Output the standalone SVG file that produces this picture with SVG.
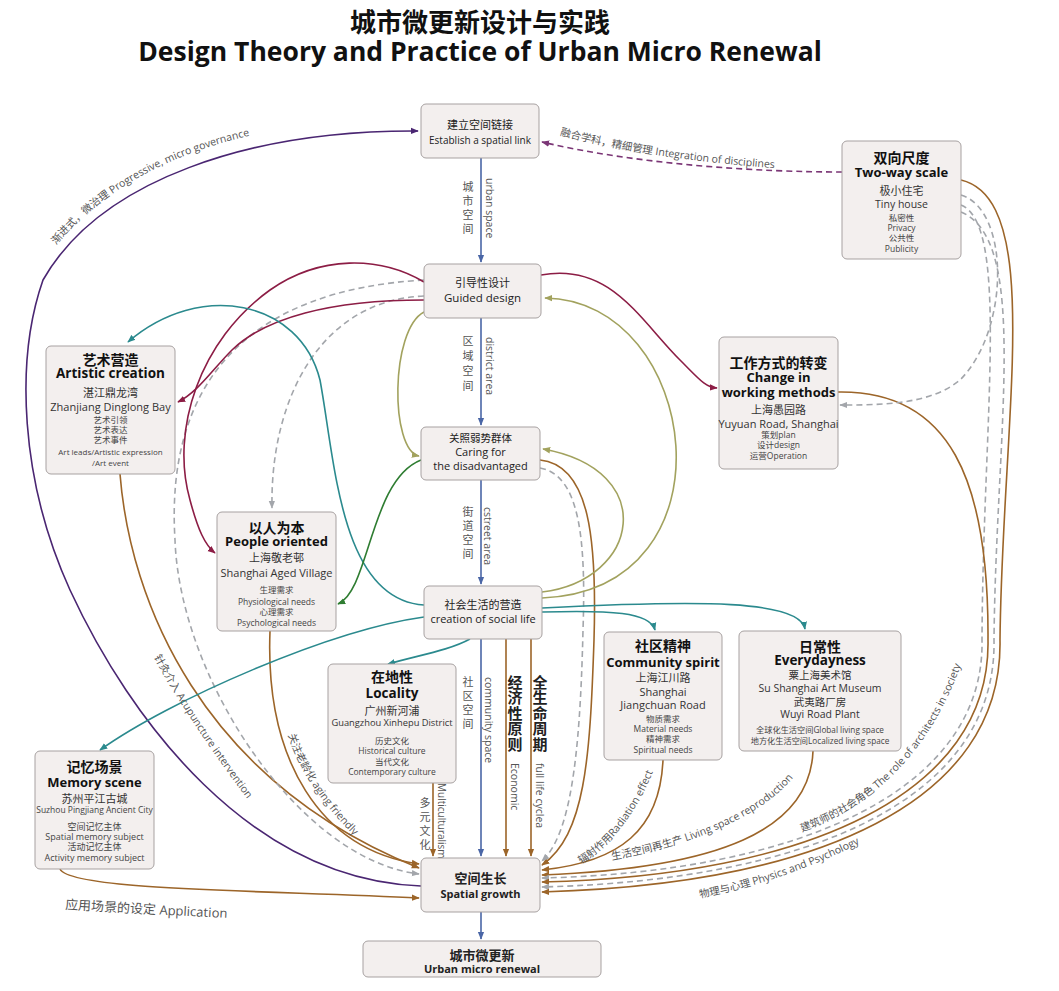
<svg xmlns="http://www.w3.org/2000/svg" width="1059" height="991" viewBox="0 0 1059 991">
<style>
text{font-family:"Open Sans","Noto Sans CJK SC",sans-serif}
.n rect{fill:#f3efee;stroke:#a7a1a1;stroke-width:1}
.c{text-anchor:middle;fill:#222}
.h{font-weight:bold;font-size:14px;fill:#111}
.he{font-weight:bold;font-size:13px;fill:#111}
.s{font-size:11px;fill:#333}
.d{font-size:8.5px;fill:#444}
.m{font-size:11px;fill:#222}
.lb{font-size:10.5px;fill:#555}
.vc{font-size:11px;fill:#555;text-anchor:middle}
.vb{font-size:15px;font-weight:bold;fill:#222;text-anchor:middle}
.cn path{fill:none;stroke-width:1.6}
.blue{stroke:#4a66a6}
.brown{stroke:#9c6529}
.pur{stroke:#4a2672}
.pd{stroke:#7b3676;stroke-dasharray:6 4;stroke-width:2}
.cr{stroke:#8c1d45}
.teal{stroke:#2b8a8e}
.grn{stroke:#2f7d32}
.olv{stroke:#a2a25e}
.gd{stroke:#a3a6ab;stroke-dasharray:6 4}
</style>
<defs>
<marker id="mB" viewBox="0 0 10 10" refX="9" refY="5" markerWidth="8" markerHeight="8" orient="auto" markerUnits="userSpaceOnUse"><path d="M0,1 L10,5 L0,9 z" fill="#4a66a6"/></marker>
<marker id="mBr" viewBox="0 0 10 10" refX="9" refY="5" markerWidth="8" markerHeight="8" orient="auto" markerUnits="userSpaceOnUse"><path d="M0,1 L10,5 L0,9 z" fill="#9c6529"/></marker>
<marker id="mP" viewBox="0 0 10 10" refX="9" refY="5" markerWidth="8" markerHeight="8" orient="auto" markerUnits="userSpaceOnUse"><path d="M0,1 L10,5 L0,9 z" fill="#4a2672"/></marker>
<marker id="mPd" viewBox="0 0 10 10" refX="9" refY="5" markerWidth="8" markerHeight="8" orient="auto" markerUnits="userSpaceOnUse"><path d="M0,1 L10,5 L0,9 z" fill="#7b3676"/></marker>
<marker id="mC" viewBox="0 0 10 10" refX="9" refY="5" markerWidth="8" markerHeight="8" orient="auto" markerUnits="userSpaceOnUse"><path d="M0,1 L10,5 L0,9 z" fill="#8c1d45"/></marker>
<marker id="mT" viewBox="0 0 10 10" refX="9" refY="5" markerWidth="8" markerHeight="8" orient="auto" markerUnits="userSpaceOnUse"><path d="M0,1 L10,5 L0,9 z" fill="#2b8a8e"/></marker>
<marker id="mG" viewBox="0 0 10 10" refX="9" refY="5" markerWidth="8" markerHeight="8" orient="auto" markerUnits="userSpaceOnUse"><path d="M0,1 L10,5 L0,9 z" fill="#2f7d32"/></marker>
<marker id="mO" viewBox="0 0 10 10" refX="9" refY="5" markerWidth="8" markerHeight="8" orient="auto" markerUnits="userSpaceOnUse"><path d="M0,1 L10,5 L0,9 z" fill="#a2a25e"/></marker>
<marker id="mGr" viewBox="0 0 10 10" refX="9" refY="5" markerWidth="8" markerHeight="8" orient="auto" markerUnits="userSpaceOnUse"><path d="M0,1 L10,5 L0,9 z" fill="#a3a6ab"/></marker>
<path id="lp1" d="M56,245 Q130,157 277,130"/>
<path id="lp2" d="M560,135 Q650,160 800,170"/>
<path id="lp3" d="M154,657 Q192,728 268,826"/>
<path id="lp4" d="M288,735 Q309,798 375,855"/>
<path id="lp5" d="M581,864 C614,845 644,803 660,752"/>
<path id="lp6" d="M612,860 C695,845 778,812 805,760"/>
<path id="lp7" d="M802,832 C875,805 940,748 972,630"/>
<path id="lp8" d="M700,898 Q790,881 882,832"/>
<path id="lp9" d="M65,909 Q160,915 270,920"/>
</defs>

<text x="480" y="32" text-anchor="middle" style="font-size:26px;font-weight:bold;fill:#111">城市微更新设计与实践</text>
<text x="480" y="61" text-anchor="middle" style="font-size:26.5px;font-weight:bold;fill:#111">Design Theory and Practice of Urban Micro Renewal</text>

<g id="connectors" class="cn">
<path class="blue" d="M481,158 L481,262" marker-end="url(#mB)"/>
<path class="blue" d="M481,318 L481,425" marker-end="url(#mB)"/>
<path class="blue" d="M481,480 L481,584" marker-end="url(#mB)"/>
<path class="blue" d="M481,639 L481,856" marker-end="url(#mB)"/>
<path class="blue" d="M481,912 L481,939" marker-end="url(#mB)"/>
<path class="brown" d="M506,639 L506,856" marker-end="url(#mBr)"/>
<path class="brown" d="M531,639 L531,856" marker-end="url(#mBr)"/>
<path class="brown" d="M433,783 L433,856" marker-end="url(#mBr)"/>
<path class="brown" d="M120,474 C130,600 200,780 419,868" marker-end="url(#mBr)"/>
<path class="brown" d="M270,631 C265,760 320,850 419,864" marker-end="url(#mBr)"/>
<path class="brown" d="M60,869 C70,890 250,890 419,898" marker-end="url(#mBr)"/>
<path class="brown" d="M540,460 C590,465 597,540 594,640 C590,760 585,835 542,865" marker-end="url(#mBr)"/>
<path class="brown" d="M663,760 C660,830 620,862 542,870" marker-end="url(#mBr)"/>
<path class="brown" d="M813,751 C810,830 720,868 542,875" marker-end="url(#mBr)"/>
<path class="gd" d="M961,205 C1010,225 983,420 982,640 C985,790 800,872 542,878" marker-end="url(#mGr)"/>
<path class="brown" d="M838,392 C950,390 989,480 988,640 C991,794 806,876 542,882" marker-end="url(#mBr)"/>
<path class="gd" d="M961,212 C1030,240 996,430 994,640 C997,798 812,880 542,887" marker-end="url(#mGr)"/>
<path class="brown" d="M961,180 C1045,200 1002,420 1000,640 C1003,802 818,884 542,892" marker-end="url(#mBr)"/>
<path class="gd" d="M961,195 C1010,210 1010,330 960,380 C930,405 880,405 840,405" marker-end="url(#mGr)"/>
<path class="gd" d="M424,280 C250,290 165,380 175,540 C180,680 300,860 419,874" marker-end="url(#mGr)"/>
<path class="gd" d="M424,296 C320,300 270,400 272,508" marker-end="url(#mGr)"/>
<path class="gd" d="M540,468 C580,475 586,540 583,630 C580,760 570,835 542,861" marker-end="url(#mGr)"/>
<path class="pur" d="M421,886 C250,880 130,720 70,590 C20,480 15,360 43,280 C100,180 250,130 418,131" marker-end="url(#mP)"/>
<path class="pd" d="M842,172 C760,172 640,165 542,142" marker-end="url(#mPd)"/>
<path class="cr" d="M424,282 C380,256 320,255 270,290 C200,340 170,430 190,500 C198,530 205,545 215,553" marker-end="url(#mC)"/>
<path class="cr" d="M424,300 C330,300 265,318 232,350 C212,370 198,392 178,402" marker-end="url(#mC)"/>
<path class="cr" d="M541,275 C610,262 640,320 680,360 C700,380 705,387 717,388" marker-end="url(#mC)"/>
<path class="teal" d="M424,605 C340,600 335,460 320,380 C300,300 200,280 128,342" marker-end="url(#mT)"/>
<path class="teal" d="M424,617 C330,630 170,700 100,750" marker-end="url(#mT)"/>
<path class="teal" d="M470,639 C450,650 420,655 388,664" marker-end="url(#mT)"/>
<path class="teal" d="M542,612 C610,610 650,612 655,630" marker-end="url(#mT)"/>
<path class="teal" d="M542,608 C700,600 800,600 805,629" marker-end="url(#mT)"/>
<path class="grn" d="M421,460 C370,480 370,590 338,604" marker-end="url(#mG)"/>
<path class="olv" d="M542,598 C740,590 700,300 545,298" marker-end="url(#mO)"/>
<path class="olv" d="M542,592 C640,580 660,470 543,449" marker-end="url(#mO)"/>
<path class="olv" d="M424,312 C390,330 390,450 419,456" marker-end="url(#mO)"/>
</g>

<g id="labels">
<text class="lb"><textPath href="#lp1">渐进式，微治理  Progressive, micro governance</textPath></text>
<text class="lb"><textPath href="#lp2">融合学科，精细管理  Integration of disciplines</textPath></text>
<text class="lb"><textPath href="#lp3">针灸介入  Acupuncture intervention</textPath></text>
<text class="lb"><textPath href="#lp4">关注老龄化  aging friendly</textPath></text>
<text class="lb"><textPath href="#lp5">辐射作用Radiation effect</textPath></text>
<text class="lb"><textPath href="#lp6">生活空间再生产  Living space reproduction</textPath></text>
<text class="lb"><textPath href="#lp7">建筑师的社会角色  The role of architects in society</textPath></text>
<text class="lb"><textPath href="#lp8">物理与心理  Physics and Psychology</textPath></text>
<text class="lb" style="font-size:13px"><textPath href="#lp9">应用场景的设定 Application</textPath></text>
<text class="vc"><tspan x="468" y="191">城</tspan><tspan x="468" y="205">市</tspan><tspan x="468" y="219">空</tspan><tspan x="468" y="233">间</tspan></text>
<text class="lb" transform="translate(486,178) rotate(90)">urban space</text>
<text class="vc"><tspan x="468" y="345">区</tspan><tspan x="468" y="360">域</tspan><tspan x="468" y="375">空</tspan><tspan x="468" y="390">间</tspan></text>
<text class="lb" transform="translate(486,337) rotate(90)">district area</text>
<text class="vc"><tspan x="468" y="516">街</tspan><tspan x="468" y="530">道</tspan><tspan x="468" y="544">空</tspan><tspan x="468" y="558">间</tspan></text>
<text class="lb" transform="translate(484,507) rotate(90)">cstreet area</text>
<text class="vc"><tspan x="468" y="686">社</tspan><tspan x="468" y="700">区</tspan><tspan x="468" y="714">空</tspan><tspan x="468" y="728">间</tspan></text>
<text class="lb" transform="translate(485,677) rotate(90)">community space</text>
<text class="vb"><tspan x="515" y="688">经</tspan><tspan x="515" y="703">济</tspan><tspan x="515" y="719">性</tspan><tspan x="515" y="734">原</tspan><tspan x="515" y="750">则</tspan></text>
<text class="lb" transform="translate(511,763) rotate(90)">Economic</text>
<text class="vb"><tspan x="540" y="688">全</tspan><tspan x="540" y="703">生</tspan><tspan x="540" y="719">命</tspan><tspan x="540" y="734">周</tspan><tspan x="540" y="750">期</tspan></text>
<text class="lb" transform="translate(536,763) rotate(90)">full life cyclea</text>
<text class="vc"><tspan x="425" y="807">多</tspan><tspan x="425" y="821">元</tspan><tspan x="425" y="835">文</tspan><tspan x="425" y="849">化</tspan></text>
<text class="lb" style="font-size:10px" transform="translate(438,783) rotate(90)">Multiculturalism</text>
</g>

<g id="n-establish" class="n"><rect x="421" y="104" width="118" height="54" rx="5"/>
<text class="c m" x="480" y="129">建立空间链接</text><text class="c" style="font-size:10px" x="480" y="144">Establish a spatial link</text></g>
<g id="n-guided" class="n"><rect x="424" y="264" width="117" height="54" rx="5"/>
<text class="c m" x="482.5" y="287">引导性设计</text><text class="c" style="font-size:11.5px" x="482.5" y="302">Guided design</text></g>
<g id="n-caring" class="n"><rect x="421" y="427" width="119" height="53" rx="5"/>
<text class="c m" style="font-size:10.5px" x="480.5" y="442">关照弱势群体</text><text class="c m" x="480.5" y="456">Caring for</text><text class="c m" x="480.5" y="470">the disadvantaged</text></g>
<g id="n-social" class="n"><rect x="424" y="586" width="118" height="53" rx="5"/>
<text class="c m" x="483" y="609">社会生活的营造</text><text class="c m" x="483" y="623">creation of social life</text></g>
<g id="n-growth" class="n"><rect x="421" y="858" width="119" height="54" rx="5"/>
<text class="c" style="font-size:13px;font-weight:bold" x="480.5" y="883">空间生长</text><text class="c" style="font-size:11px;font-weight:bold" x="480.5" y="898">Spatial growth</text></g>
<g id="n-renewal" class="n"><rect x="363" y="941" width="238" height="36" rx="5"/>
<text class="c" style="font-size:13px;font-weight:bold" x="482" y="960">城市微更新</text><text class="c" style="font-size:11px;font-weight:bold" x="482" y="973">Urban micro renewal</text></g>

<g id="n-twoway" class="n"><rect x="842" y="141" width="119" height="118" rx="5"/>
<text class="c h" x="901.5" y="163">双向尺度</text><text class="c he" x="901.5" y="177">Two-way scale</text>
<text class="c s" x="901.5" y="195">极小住宅</text><text class="c s" style="font-size:10.5px" x="901.5" y="208">Tiny house</text>
<text class="c d" x="901.5" y="221">私密性</text><text class="c d" x="901.5" y="231">Privacy</text><text class="c d" x="901.5" y="241">公共性</text><text class="c d" x="901.5" y="252">Publicity</text></g>

<g id="n-artistic" class="n"><rect x="46" y="346" width="129" height="128" rx="5"/>
<text class="c h" x="110.5" y="365">艺术营造</text><text class="c he" style="font-size:13.5px" x="110.5" y="378">Artistic creation</text>
<text class="c s" x="110.5" y="397">湛江鼎龙湾</text><text class="c s" x="110.5" y="411">Zhanjiang Dinglong Bay</text>
<text class="c d" x="110.5" y="423">艺术引领</text><text class="c d" x="110.5" y="433">艺术表达</text><text class="c d" x="110.5" y="443">艺术事件</text>
<text class="c d" style="font-size:8px" x="110.5" y="455">Art leads/Artistic expression</text><text class="c d" style="font-size:8px" x="110.5" y="466">/Art event</text></g>

<g id="n-people" class="n"><rect x="217" y="512" width="119" height="119" rx="5"/>
<text class="c h" x="276.5" y="533">以人为本</text><text class="c he" x="276.5" y="546">People oriented</text>
<text class="c s" x="276.5" y="562">上海敬老邨</text><text class="c s" x="276.5" y="577">Shanghai Aged Village</text>
<text class="c d" x="276.5" y="593">生理需求</text><text class="c d" x="276.5" y="605">Physiological needs</text><text class="c d" x="276.5" y="615">心理需求</text><text class="c d" x="276.5" y="626">Psychological needs</text></g>

<g id="n-working" class="n"><rect x="719" y="337" width="119" height="132" rx="5"/>
<text class="c h" x="778.5" y="368">工作方式的转变</text><text class="c he" x="778.5" y="382">Change in</text><text class="c he" x="778.5" y="397">working methods</text>
<text class="c s" x="778.5" y="414">上海愚园路</text><text class="c s" x="778.5" y="428">Yuyuan Road, Shanghai</text>
<text class="c d" x="778.5" y="438">策划plan</text><text class="c d" x="778.5" y="448">设计design</text><text class="c d" x="778.5" y="459">运营Operation</text></g>

<g id="n-locality" class="n"><rect x="328" y="664" width="128" height="119" rx="5"/>
<text class="c h" x="392" y="682">在地性</text><text class="c he" style="font-size:13.5px" x="392" y="698">Locality</text>
<text class="c s" x="392" y="715">广州新河浦</text><text class="c s" style="font-size:9.3px" x="392" y="726">Guangzhou Xinhepu District</text>
<text class="c d" x="392" y="744">历史文化</text><text class="c d" x="392" y="754">Historical culture</text><text class="c d" x="392" y="765">当代文化</text><text class="c d" x="392" y="775">Contemporary culture</text></g>

<g id="n-community" class="n"><rect x="604" y="632" width="118" height="128" rx="5"/>
<text class="c h" x="663" y="651">社区精神</text><text class="c he" x="663" y="667">Community spirit</text>
<text class="c s" x="663" y="682">上海江川路</text><text class="c s" x="663" y="696">Shanghai</text><text class="c s" x="663" y="709">Jiangchuan Road</text>
<text class="c d" x="663" y="722">物质需求</text><text class="c d" x="663" y="732">Material needs</text><text class="c d" x="663" y="742">精神需求</text><text class="c d" x="663" y="753">Spiritual needs</text></g>

<g id="n-everyday" class="n"><rect x="739" y="631" width="162" height="120" rx="5"/>
<text class="c h" x="820" y="652">日常性</text><text class="c he" style="font-size:13.5px" x="820" y="665">Everydayness</text>
<text class="c s" style="font-size:10.5px" x="820" y="679">粟上海美术馆</text><text class="c s" style="font-size:10.5px" x="820" y="692">Su Shanghai Art Museum</text>
<text class="c s" style="font-size:10.5px" x="820" y="706">武夷路厂房</text><text class="c s" style="font-size:10.5px" x="820" y="718">Wuyi Road Plant</text>
<text class="c d" style="font-size:8.2px" x="820" y="733">全球化生活空间Global living space</text><text class="c d" style="font-size:8.2px" x="820" y="744">地方化生活空间Localized living space</text></g>

<g id="n-memory" class="n"><rect x="35" y="751" width="119" height="118" rx="5"/>
<text class="c h" x="94.5" y="772">记忆场景</text><text class="c he" x="94.5" y="787">Memory scene</text>
<text class="c s" x="94.5" y="803">苏州平江古城</text><text class="c d" x="94.5" y="813">Suzhou Pingjiang Ancient City</text>
<text class="c d" style="font-size:9px" x="94.5" y="830">空间记忆主体</text><text class="c d" style="font-size:9px" x="94.5" y="840">Spatial memory subject</text><text class="c d" style="font-size:9px" x="94.5" y="850">活动记忆主体</text><text class="c d" style="font-size:9px" x="94.5" y="861">Activity memory subject</text></g>
</svg>
